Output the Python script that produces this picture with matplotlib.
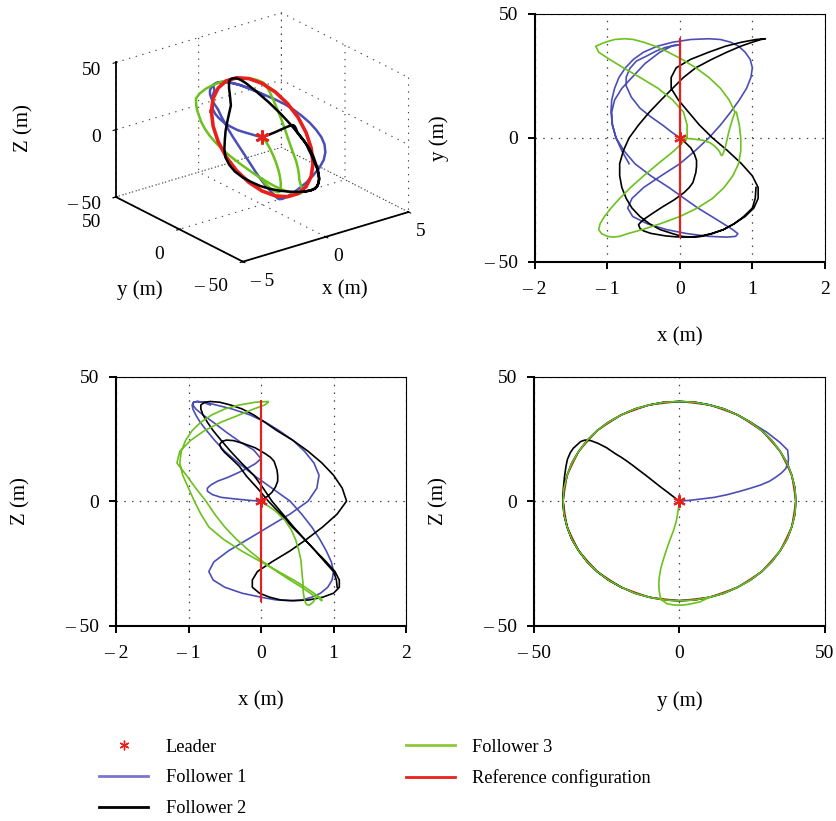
import matplotlib.pyplot as plt
from matplotlib.lines import Line2D

# Reference configuration (circle in the y-z plane, x = 0)
ref_y = [40, 38.6, 34.6, 28.3, 20, 10.4, 0, -10.4, -20, -28.3, -34.6, -38.6, -40,
         -38.6, -34.6, -28.3, -20, -10.4, 0, 10.4, 20, 28.3, 34.6, 38.6, 40]
ref_z = [0, 10.4, 20, 28.3, 34.6, 38.6, 40, 38.6, 34.6, 28.3, 20, 10.4, 0,
         -10.4, -20, -28.3, -34.6, -38.6, -40, -38.6, -34.6, -28.3, -20, -10.4, 0]
ref_x = [0, 0, 0, 0, 0, 0, 0, 0, 0, 0, 0, 0, 0,
         0, 0, 0, 0, 0, 0, 0, 0, 0, 0, 0, 0]

# Follower 1
f1_y = [0, 2.5, 5, 8.5, 12, 16.5, 21, 24.5, 28, 31, 33, 35, 36.5, 37.3, 37.5, 37.2, 34.5, 30,
        24.4, 20, 15.3, 10.4, 5.2, 0, -5.2, -10.4, -15.3, -20, -24.4, -28.3, -31.7, -34.6, -37, -38.6, -39.7, -40,
        -39.7, -38.6, -37, -34.6, -31.7, -28.3, -24.4, -20, -15.3, -10.4, -5.2, 0,
        5.2, 10.4, 15.3, 20, 24.4, 28.3, 31.7, 34.6, 37, 38.6, 39.7, 40,
        39.7, 38.6, 37, 34.6, 31.7, 28.3, 24.4, 20, 15.3, 10.4, 5.2, 0, -5.2, -10.4]
f1_z = [0, 0.2, 0.5, 1, 1.5, 2.6, 4, 5.2, 6.5, 8, 9.5, 11.2, 13, 15, 17, 20.5, 23.6, 27.7,
        31.7, 34.6, 37, 38.6, 39.7, 40, 39.7, 38.6, 37, 34.6, 31.7, 28.3, 24.4, 20, 15.3, 10.4, 5.2, 0,
        -5.2, -10.4, -15.3, -20, -24.4, -28.3, -31.7, -34.6, -37, -38.6, -39.7, -40,
        -39.7, -38.6, -37, -34.6, -31.7, -28.3, -24.4, -20, -15.3, -10.4, -5.2, 0,
        5.2, 10.4, 15.3, 20, 24.4, 28.3, 31.7, 34.6, 37, 38.6, 39.7, 40, 39.7, 38.6]
f1_x = [0, -0.12, -0.23, -0.4, -0.55, -0.67, -0.74, -0.74, -0.69, -0.6, -0.46, -0.33, -0.2, -0.08, 0, -0.1, -0.28, -0.48,
        -0.66, -0.8, -0.9, -0.94, -0.93, -0.88, -0.77, -0.62, -0.4, -0.15, 0.06, 0.25, 0.44, 0.6, 0.73, 0.8, 0.77, 0.65,
        0.4, 0.1, -0.18, -0.45, -0.65, -0.72, -0.66, -0.5, -0.26, 0.0, 0.21, 0.4,
        0.56, 0.7, 0.82, 0.92, 0.98, 1.0, 0.97, 0.9, 0.81, 0.7, 0.56, 0.4,
        0.15, -0.1, -0.31, -0.5, -0.64, -0.75, -0.84, -0.9, -0.94, -0.95, -0.93, -0.88, -0.8, -0.7]

# Follower 2
f2_y = [0, -2, -4, -6.5, -9, -11.5, -14, -16, -18, -20, -22, -25, -28, -30.5, -32.5, -34, -35, -36.5,
        -37.5, -38.5, -39, -39.5, -39.9, -40,
        -39.7, -38.6, -37, -34.6, -31.7, -28.3, -24.4, -20, -15.3, -10.4, -5.2, 0,
        5.2, 10.4, 15.3, 20, 24.4, 28.3, 31.7, 34.6, 37, 38.6, 39.7, 40,
        39.7, 38.6, 37, 34.6, 31.7, 28.3, 24.4, 20, 15.3, 10.4, 5.2, 0,
        -5.2, -10.4, -15.3, -20, -24.4, -28.3, -31.7, -34.6, -37, -38.6, -39.7, -40,
        -39.7, -38.6, -37, -34.6, -31.7, -28.3, -24.4, -20]
f2_z = [0, 1.7, 3.5, 5.7, 8, 10.3, 12.5, 14.3, 16, 17.6, 19, 21.4, 23.2, 24.3, 24.5, 23.9, 22.8, 21.2,
        19.5, 16.8, 14, 10, 5.2, 0,
        -5.2, -10.4, -15.3, -20, -24.4, -28.3, -31.7, -34.6, -37, -38.6, -39.7, -40,
        -39.7, -38.6, -37, -34.6, -31.7, -28.3, -24.4, -20, -15.3, -10.4, -5.2, 0,
        5.2, 10.4, 15.3, 20, 24.4, 28.3, 31.7, 34.6, 37, 38.6, 39.7, 40,
        39.7, 38.6, 37, 34.6, 31.7, 28.3, 24.4, 20, 15.3, 10.4, 5.2, 0,
        -5.2, -10.4, -15.3, -20, -24.4, -28.3, -31.7, -34.6]
f2_x = [0, 0.08, 0.15, 0.2, 0.23, 0.23, 0.22, 0.2, 0.18, 0.13, 0.06, -0.08, -0.25, -0.38, -0.48, -0.54, -0.57, -0.55,
        -0.5, -0.4, -0.3, -0.2, -0.05, 0.1,
        0.27, 0.43, 0.6, 0.75, 0.9, 1.02, 1.08, 1.08, 1.0, 0.85, 0.66, 0.45,
        0.27, 0.12, -0.02, -0.12, -0.12, -0.05, 0.15, 0.4, 0.63, 0.85, 1.05, 1.18,
        1.12, 1.0, 0.84, 0.65, 0.44, 0.22, 0.05, -0.1, -0.26, -0.42, -0.57, -0.7,
        -0.78, -0.83, -0.83, -0.8, -0.74, -0.66, -0.55, -0.42, -0.27, -0.1, 0.03, 0.15,
        0.3, 0.45, 0.6, 0.75, 0.88, 1.0, 1.04, 1.05]

# Follower 3
f3_y = [0, -0.2, -0.5, -1, -2, -3.3, -4.5, -5.6, -6.4, -6.9, -7.1, -7, -6.7, -6.1, -4.3, -2.1, 0.5, 3, 7,
        10.4, 15.3, 20, 24.4, 28.3, 31.7, 34.6, 37, 38.6, 39.7, 40,
        39.7, 38.6, 37, 34.6, 31.7, 28.3, 24.4, 20, 15.3, 10.4, 5.2, 0,
        -5.2, -10.4, -15.3, -20, -24.4, -28.3, -31.7, -34.6, -37, -38.6, -39.7, -40,
        -39.7, -38.6, -37, -34.6, -31.7, -28.3, -24.4, -20, -15.3, -10.4, -5.2, 0, 5.2, 10.4]
f3_z = [0, -2, -4, -7.7, -11.7, -15.7, -19.7, -23.7, -27, -30.4, -33, -35.7, -38, -39.7, -41.2, -41.7, -41.8, -41.5, -40.5,
        -38.6, -37, -34.6, -31.7, -28.3, -24.4, -20, -15.3, -10.4, -5.2, 0,
        5.2, 10.4, 15.3, 20, 24.4, 28.3, 31.7, 34.6, 37, 38.6, 39.7, 40,
        39.7, 38.6, 37, 34.6, 31.7, 28.3, 24.4, 20, 15.3, 10.4, 5.2, 0,
        -5.2, -10.4, -15.3, -20, -24.4, -28.3, -31.7, -34.6, -37, -38.6, -39.7, -40, -39.7, -38.6]
f3_x = [0, 0.1, 0.2, 0.33, 0.42, 0.48, 0.52, 0.55, 0.56, 0.57, 0.58, 0.58, 0.59, 0.6, 0.62, 0.64, 0.66, 0.68, 0.72,
        0.76, 0.68, 0.56, 0.4, 0.22, 0.03, -0.16, -0.34, -0.5, -0.64, -0.76,
        -0.9, -1.03, -1.16, -1.12, -0.97, -0.78, -0.55, -0.3, -0.1, 0.05, 0.1, 0.1,
        -0.08, -0.3, -0.5, -0.68, -0.83, -0.95, -1.04, -1.1, -1.12, -1.08, -1.0, -0.92,
        -0.83, -0.72, -0.52, -0.27, 0.0, 0.24, 0.45, 0.61, 0.73, 0.81, 0.84, 0.84, 0.82, 0.78]

# Leader position
leader = [0, 0, 0]

C_BLUE = '#4b4fb5'
C_BLACK = 'black'
C_GREEN = '#6cc11c'
C_RED = '#e8201c'
ASTERISK = (6, 2, 0)
GRID_LS = (0, (1.2, 5))

plt.rcParams['font.family'] = ['Liberation Serif', 'DejaVu Serif']
plt.rcParams['font.size'] = 14
plt.rcParams['axes.labelsize'] = 15


def fmt(v):
    # MATLAB-artige Beschriftung "– 50"
    if v < 0:
        return '\u2013 %g' % abs(v)
    return '%g' % v


def style_2d(ax, xticks, yticks, xlabel, ylabel):
    ax.set_xticks(xticks)
    ax.set_yticks(yticks)
    ax.set_xticklabels([fmt(v) for v in xticks])
    ax.set_yticklabels([fmt(v) for v in yticks])
    ax.set_xlim(xticks[0], xticks[-1])
    ax.set_ylim(yticks[0], yticks[-1])
    ax.grid(True, color='#444444', linestyle=GRID_LS, linewidth=0.9)
    ax.tick_params(direction='out', length=5, width=1.4)
    ax.tick_params(axis='x', pad=9)
    ax.tick_params(axis='y', pad=7)
    for s in ['left', 'bottom']:
        ax.spines[s].set_linewidth(1.5)
    for s in ['top', 'right']:
        ax.spines[s].set_linewidth(0.8)
    ax.set_xlabel(xlabel, labelpad=21)
    ax.set_ylabel(ylabel, labelpad=25)


fig = plt.figure(figsize=(8.37, 8.21), dpi=100)

# 3D Ansicht
ax3 = fig.add_axes([0.026, 0.63, 0.564, 0.395], projection='3d')
ax3.set_proj_type('ortho')
ax3.set_box_aspect((4, 4, 2.8), zoom=0.986)
ax3.plot(f1_x, f1_y, f1_z, color=C_BLUE, lw=1.8)
ax3.plot(f3_x, f3_y, f3_z, color=C_GREEN, lw=1.8)
ax3.plot(ref_x, ref_y, ref_z, color=C_RED, lw=2.6)
ax3.plot(f2_x, f2_y, f2_z, color=C_BLACK, lw=1.8)
ax3.plot([leader[0]], [leader[1]], [leader[2]], marker=ASTERISK, color=C_RED, ms=10, mew=2, ls='none')
ax3.set_xlim(-5, 5)
ax3.set_ylim(-50, 50)
ax3.set_zlim(-50, 50)
ax3.set_xticks([-5, 0, 5])
ax3.set_yticks([-50, 0, 50])
ax3.set_zticks([-50, 0, 50])
ax3.set_xticklabels([fmt(v) for v in [-5, 0, 5]], ha='left')
ax3.set_yticklabels([fmt(v) for v in [-50, 0, 50]], ha='right')
ax3.set_zticklabels([fmt(v) for v in [-50, 0, 50]], ha='right')
ax3.tick_params(axis='x', pad=-1)
ax3.tick_params(axis='y', pad=3)
ax3.tick_params(axis='z', pad=-2)
ax3.view_init(elev=23, azim=-127.5)
for axis in [ax3.xaxis, ax3.yaxis, ax3.zaxis]:
    axis.set_pane_color((1, 1, 1, 0))
    axis.pane.set_edgecolor('none')
    axis.line.set_linewidth(1.3)
    axis._axinfo['grid'].update(color='#444444', linestyle=GRID_LS, linewidth=0.8)
fig.text(0.028, 0.844, 'Z (m)', rotation=90, ha='center', va='center', fontsize=15)
fig.text(0.167, 0.647, 'y (m)', ha='center', va='center', fontsize=15)
fig.text(0.412, 0.647, 'x (m)', ha='center', va='center', fontsize=15)

# x-y Ansicht
ax_xy = fig.add_axes([0.639, 0.681, 0.3465, 0.302])
ax_xy.plot(f1_x, f1_y, color=C_BLUE, lw=1.2)
ax_xy.plot(f2_x, f2_y, color=C_BLACK, lw=1.2)
ax_xy.plot(f3_x, f3_y, color=C_GREEN, lw=1.2)
ax_xy.plot(ref_x, ref_y, color=C_RED, lw=1.5)
ax_xy.plot(leader[0], leader[1], marker=ASTERISK, color=C_RED, ms=9, mew=1.5, ls='none')
style_2d(ax_xy, [-2, -1, 0, 1, 2], [-50, 0, 50], 'x (m)', 'y (m)')

# x-z Ansicht
ax_xz = fig.add_axes([0.1386, 0.238, 0.3465, 0.3033])
ax_xz.plot(f1_x, f1_z, color=C_BLUE, lw=1.2)
ax_xz.plot(f2_x, f2_z, color=C_BLACK, lw=1.2)
ax_xz.plot(f3_x, f3_z, color=C_GREEN, lw=1.2)
ax_xz.plot(ref_x, ref_z, color=C_RED, lw=1.5)
ax_xz.plot(leader[0], leader[2], marker=ASTERISK, color=C_RED, ms=9, mew=1.5, ls='none')
style_2d(ax_xz, [-2, -1, 0, 1, 2], [-50, 0, 50], 'x (m)', 'Z (m)')

# y-z Ansicht
ax_yz = fig.add_axes([0.638, 0.238, 0.3475, 0.3033])
ax_yz.plot(ref_y, ref_z, color=C_RED, lw=1.0)
ax_yz.plot(f1_y, f1_z, color=C_BLUE, lw=1.2)
ax_yz.plot(f2_y, f2_z, color=C_BLACK, lw=1.2)
ax_yz.plot(f3_y, f3_z, color=C_GREEN, lw=1.2)
ax_yz.plot(leader[1], leader[2], marker=ASTERISK, color=C_RED, ms=9, mew=1.5, ls='none')
style_2d(ax_yz, [-50, 0, 50], [-50, 0, 50], 'y (m)', 'Z (m)')

# Legende
handles = [
    Line2D([], [], ls='none', marker=ASTERISK, color=C_RED, ms=7, mew=1),
    Line2D([], [], color='#7a76d0', lw=2),
    Line2D([], [], color=C_BLACK, lw=2),
    Line2D([], [], color='#8fc93a', lw=2),
    Line2D([], [], color=C_RED, lw=2),
]
labels = ['Leader', 'Follower 1', 'Follower 2', 'Follower 3', 'Reference configuration']
fig.legend(handles, labels, loc='upper left', bbox_to_anchor=(0.118, 0.1), ncol=2,
           frameon=False, borderpad=0, borderaxespad=0, handlelength=2.7, fontsize=13.2,
           handletextpad=0.95, labelspacing=0.74, columnspacing=8.7)

fig.savefig('out.png', dpi=100)
